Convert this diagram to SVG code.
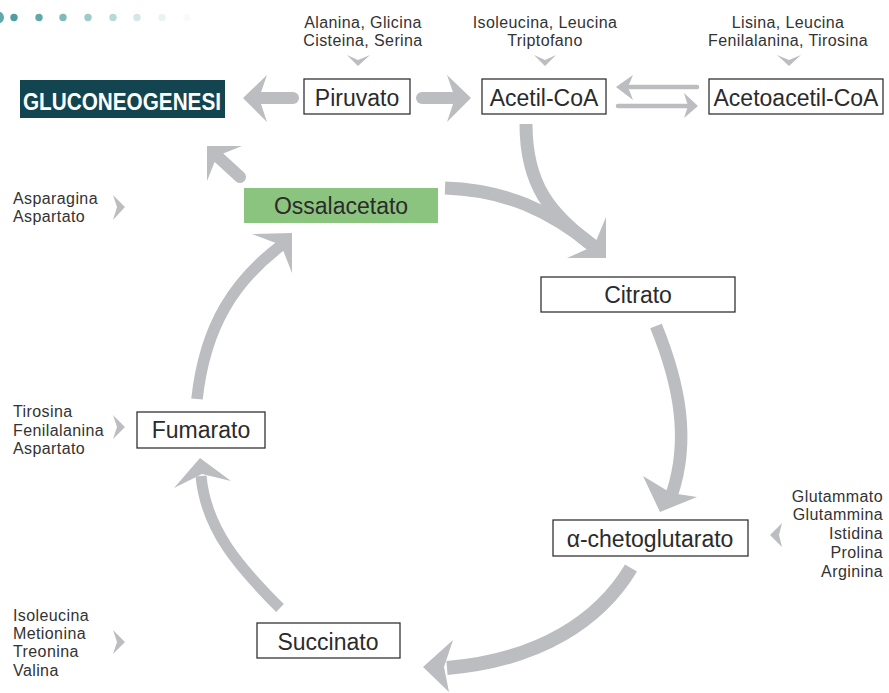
<svg xmlns="http://www.w3.org/2000/svg" width="889" height="693" viewBox="0 0 889 693">
<style>
.box{fill:#fff;stroke:#333;stroke-width:1.3}
.lbl{font-family:"Liberation Sans",Arial,sans-serif;font-size:23px;fill:#2b2b2b;text-anchor:middle}
.sm{font-family:"Liberation Sans",Arial,sans-serif;font-size:16px;letter-spacing:0.4px;fill:#333}
.mid{text-anchor:middle}
.end{text-anchor:end}
.shaft{fill:none;stroke:#bcbdc0}
.head{fill:#bcbdc0}
.dot{fill:#4f9ea3}
</style>
<rect width="889" height="693" fill="#fff"/>
<g id="dots">
<circle cx="-2" cy="17.5" r="6" class="dot" opacity="0.9"/>
<circle cx="14" cy="17.5" r="3.7" class="dot" opacity="1"/>
<circle cx="39" cy="17.5" r="3.7" class="dot" opacity="0.9"/>
<circle cx="63" cy="17.5" r="3.7" class="dot" opacity="0.72"/>
<circle cx="88" cy="17.5" r="3.7" class="dot" opacity="0.55"/>
<circle cx="113" cy="17.5" r="3.7" class="dot" opacity="0.4"/>
<circle cx="137" cy="17.5" r="3.7" class="dot" opacity="0.25"/>
<circle cx="162" cy="17.5" r="3.7" class="dot" opacity="0.12"/>
<circle cx="187" cy="17.5" r="3.7" class="dot" opacity="0.04"/>
</g>
<g id="connectors">
<!-- Piruvato -> Gluconeogenesi -->
<path class="shaft" d="M262,98 L293,98" stroke-width="12" stroke-linecap="round"/>
<polygon class="head" points="267,75 243,98 267,122 259,98"/>
<!-- Piruvato -> Acetil-CoA -->
<path class="shaft" d="M422,98 L452,98" stroke-width="12" stroke-linecap="round"/>
<polygon class="head" points="447,75 471,98 447,122 455,98"/>
<!-- Acetoacetil-CoA -> Acetil-CoA -->
<path class="shaft" d="M630,87 L697,87" stroke-width="4.5" stroke-linecap="round"/>
<polygon class="head" points="633,75 616,87 633,100 628,87"/>
<!-- Acetil-CoA -> Acetoacetil-CoA -->
<path class="shaft" d="M618,106 L690,106" stroke-width="4.5" stroke-linecap="round"/>
<polygon class="head" points="684,93 698,106 684,118 688,106"/>
<!-- Acetil-CoA -> Citrato -->
<path class="shaft" d="M526,124 C526,185 550,215 596,248" stroke-width="13"/>
<!-- Ossalacetato -> Citrato -->
<path class="shaft" d="M445,188 C505,190 550,210 596,248" stroke-width="13"/>
<polygon class="head" points="606,217 606,258 567,258 594,246"/>
<!-- Citrato -> alfa-chetoglutarato -->
<path class="shaft" d="M656,326 C680,385 690,440 672,494" stroke-width="12.5"/>
<polygon class="head" points="643,476 660,512 697,497 671,493"/>
<!-- alfa-chetoglutarato -> Succinato -->
<path class="shaft" d="M631,568 C600,620 540,660 447,668" stroke-width="14"/>
<polygon class="head" points="453,640 423,667 449,692 444,667"/>
<!-- Succinato -> Fumarato -->
<path class="shaft" d="M280,608 C240,568 206,530 201,476" stroke-width="11"/>
<polygon class="head" points="174,488 200,458 231,481 202,474"/>
<!-- Fumarato -> Ossalacetato -->
<path class="shaft" d="M197,399 C205,325 235,280 283,244" stroke-width="11.5"/>
<polygon class="head" points="252,234 292,233 292,273 281,245"/>
<!-- Ossalacetato -> Gluconeogenesi -->
<path class="shaft" d="M216,155 L240,177" stroke-width="12" stroke-linecap="round"/>
<polygon class="head" points="242,146 207,146 207,181 217,156"/>
</g>
<g id="inputs">
<polygon class="head" points="347,55 358,60 370,55 358,66"/>
<polygon class="head" points="534,55 545,60 556,55 545,66"/>
<polygon class="head" points="777,55 789,60 801,55 789,66"/>
<polygon class="head" points="113,195 125,207 113,220 117,207"/>
<polygon class="head" points="113,415 125,427 113,439 117,427"/>
<polygon class="head" points="113,630 125,642 113,654 117,642"/>
<polygon class="head" points="782,523 770,535 782,547 779,535"/>
</g>
<g id="gluconeogenesi">
<rect x="20" y="80" width="205" height="38" fill="#124550"/>
<text x="122" y="110" font-family="Liberation Sans,Arial,sans-serif" font-size="24" font-weight="bold" fill="#fff" text-anchor="middle" textLength="198" lengthAdjust="spacingAndGlyphs">GLUCONEOGENESI</text>
</g>
<g id="piruvato">
<rect class="box" x="304" y="79" width="106" height="35"/>
<text class="lbl" x="357" y="106">Piruvato</text>
</g>
<g id="acetilcoa">
<rect class="box" x="482" y="79" width="124" height="35"/>
<text class="lbl" x="544" y="106">Acetil-CoA</text>
</g>
<g id="acetoacetilcoa">
<rect class="box" x="709" y="79" width="174" height="35"/>
<text class="lbl" x="796" y="106">Acetoacetil-CoA</text>
</g>
<g id="ossalacetato">
<rect x="244" y="188" width="194" height="35" fill="#8bc47e"/>
<text class="lbl" x="341" y="214">Ossalacetato</text>
</g>
<g id="citrato">
<rect class="box" x="541" y="277" width="194" height="35"/>
<text class="lbl" x="638" y="303">Citrato</text>
</g>
<g id="chetoglutarato">
<rect class="box" x="553" y="520" width="195" height="36"/>
<text class="lbl" x="650" y="547">α-chetoglutarato</text>
</g>
<g id="fumarato">
<rect class="box" x="137" y="412" width="128" height="36"/>
<text class="lbl" x="201" y="438">Fumarato</text>
</g>
<g id="succinato">
<rect class="box" x="257" y="623" width="143" height="35"/>
<text class="lbl" x="328" y="650">Succinato</text>
</g>
<g id="labels">
<text class="sm mid" x="363" y="28">Alanina, Glicina</text>
<text class="sm mid" x="363" y="46">Cisteina, Serina</text>
<text class="sm mid" x="545" y="28">Isoleucina, Leucina</text>
<text class="sm mid" x="545" y="46">Triptofano</text>
<text class="sm mid" x="788" y="28">Lisina, Leucina</text>
<text class="sm mid" x="788" y="46">Fenilalanina, Tirosina</text>
<text class="sm" x="13" y="204">Asparagina</text>
<text class="sm" x="13" y="222">Aspartato</text>
<text class="sm" x="13" y="417">Tirosina</text>
<text class="sm" x="13" y="436">Fenilalanina</text>
<text class="sm" x="13" y="454">Aspartato</text>
<text class="sm" x="13" y="621">Isoleucina</text>
<text class="sm" x="13" y="639">Metionina</text>
<text class="sm" x="13" y="657">Treonina</text>
<text class="sm" x="13" y="676">Valina</text>
<text class="sm end" x="883" y="502">Glutammato</text>
<text class="sm end" x="883" y="520">Glutammina</text>
<text class="sm end" x="883" y="539">Istidina</text>
<text class="sm end" x="883" y="558">Prolina</text>
<text class="sm end" x="883" y="577">Arginina</text>
</g>
</svg>
